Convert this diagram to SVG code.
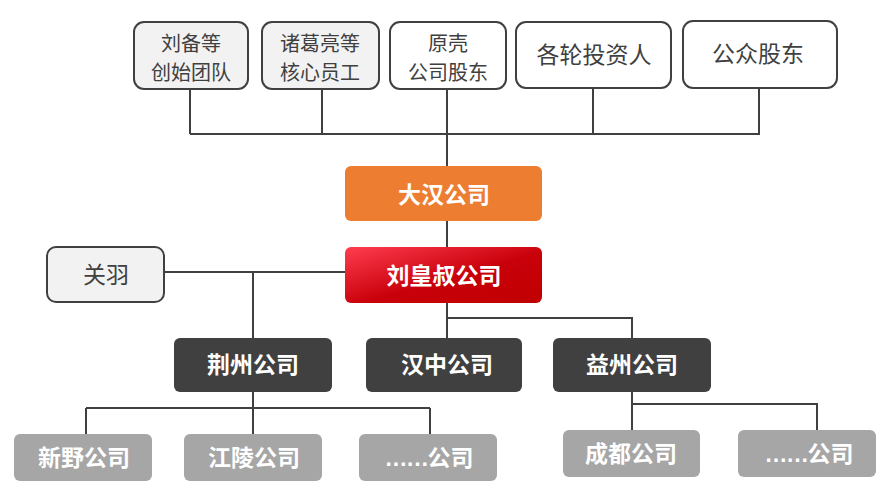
<svg xmlns="http://www.w3.org/2000/svg" width="889" height="499" viewBox="0 0 889 499">
<defs>
<linearGradient id="red" x1="0" y1="0" x2="1" y2="1">
<stop offset="0" stop-color="#FF3D50"/>
<stop offset="0.55" stop-color="#C8000A"/>
<stop offset="1" stop-color="#C00000"/>
</linearGradient>
<style>
.lt{fill:#F2F2F2;stroke:#404040;stroke-width:2}
.wt{fill:#FFFFFF;stroke:#404040;stroke-width:2}
.t{font-family:"Microsoft YaHei","Noto Sans CJK SC",sans-serif;font-size:20px;fill:#404040;text-anchor:middle}
.t1{font-size:23px}
.b{font-family:"Microsoft YaHei","Noto Sans CJK SC",sans-serif;font-size:23px;font-weight:bold;fill:#FFFFFF;text-anchor:middle}
.e{font-family:"Liberation Sans","Noto Sans CJK SC",sans-serif}
.d{letter-spacing:-1.5px}
.dk{fill:#404040}
.gr{fill:#A6A6A6}
.c{fill:none;stroke:#404040;stroke-width:2}
</style>
</defs>
<g id="connectors">
<path class="c" d="M190 89V134M322 89V134M447 89V167M593 88V134M759 88V134M190 134H760"/>
<path class="c" d="M447 221V247"/>
<path class="c" d="M164 272H345M253 272V338"/>
<path class="c" d="M447 303V338M447 318H632V338"/>
<path class="c" d="M253 392V434M86 408H430M86 408V434M430 408V434"/>
<path class="c" d="M632 392V430M632 404H817V430"/>
</g>
<g id="n1"><rect class="lt" x="134" y="22" width="114" height="67" rx="10"/><text class="t"><tspan x="191" y="51">刘备等</tspan><tspan x="191" y="80">创始团队</tspan></text></g>
<g id="n2"><rect class="lt" x="262" y="22" width="117" height="67" rx="10"/><text class="t"><tspan x="320" y="51">诸葛亮等</tspan><tspan x="320" y="80">核心员工</tspan></text></g>
<g id="n3"><rect class="wt" x="390" y="22" width="116" height="67" rx="10"/><text class="t"><tspan x="448" y="51">原壳</tspan><tspan x="448" y="80">公司股东</tspan></text></g>
<g id="n4"><rect class="wt" x="516" y="22" width="155" height="66" rx="10"/><text class="t t1" x="594" y="63">各轮投资人</text></g>
<g id="n5"><rect class="wt" x="683" y="21" width="154" height="67" rx="10"/><text class="t t1" x="758" y="62">公众股东</text></g>
<g id="dahan"><rect x="345" y="166" width="197" height="55" rx="6" fill="#ED7D31"/><text class="b" x="444" y="203">大汉公司</text></g>
<g id="liu"><rect x="345" y="247" width="197" height="56" rx="6" fill="url(#red)"/><text class="b" x="444" y="284">刘皇叔公司</text></g>
<g id="guanyu"><rect class="lt" x="47" y="247" width="117" height="55" rx="9"/><text class="t t1" x="106" y="283">关羽</text></g>
<g id="jingzhou"><rect class="dk" x="174" y="338" width="158" height="54" rx="6"/><text class="b" x="253" y="373">荆州公司</text></g>
<g id="hanzhong"><rect class="dk" x="366" y="338" width="156" height="54" rx="6"/><text class="b" x="447" y="373">汉中公司</text></g>
<g id="yizhou"><rect class="dk" x="553" y="338" width="158" height="54" rx="6"/><text class="b" x="632" y="373">益州公司</text></g>
<g id="xinye"><rect class="gr" x="14" y="434" width="138" height="47" rx="6"/><text class="b" x="84" y="466">新野公司</text></g>
<g id="jiangling"><rect class="gr" x="184" y="434" width="138" height="47" rx="6"/><text class="b" x="254" y="466">江陵公司</text></g>
<g id="etc1"><rect class="gr" x="359" y="434" width="138" height="47" rx="6"/><text class="b e" x="429" y="466"><tspan class="d">……</tspan>公司</text></g>
<g id="chengdu"><rect class="gr" x="563" y="430" width="137" height="47" rx="6"/><text class="b" x="631" y="462">成都公司</text></g>
<g id="etc2"><rect class="gr" x="738" y="430" width="138" height="47" rx="6"/><text class="b e" x="809" y="462"><tspan class="d">……</tspan>公司</text></g>
</svg>
